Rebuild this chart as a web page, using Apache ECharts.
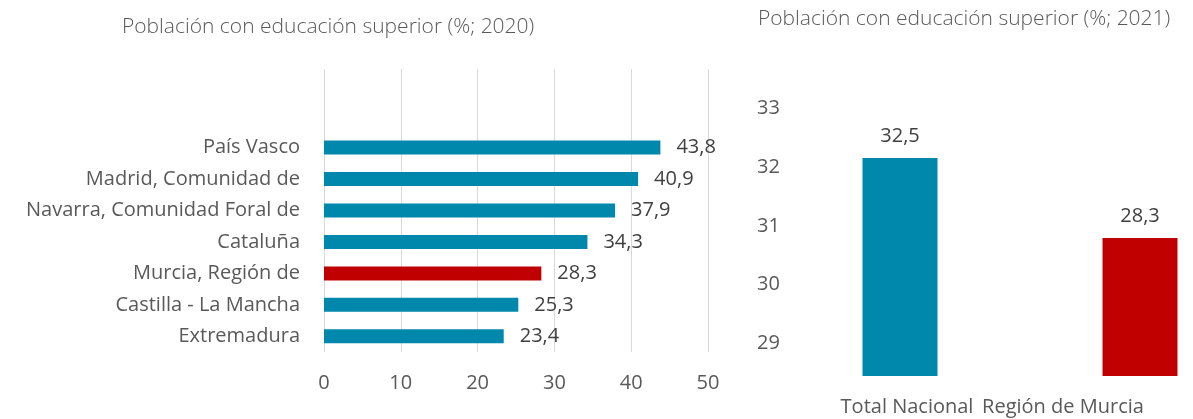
<!DOCTYPE html>
<html>
<head>
<meta charset="utf-8">
<script src="https://cdn.jsdelivr.net/npm/echarts@6/dist/echarts.min.js"></script>
<style>
  html, body { margin: 0; padding: 0; background: #fff; overflow: hidden; }
  /* el grafico de la derecha queda cortado por el borde, como en el original */
  #chart { width: 1260px; height: 419px; }
</style>
</head>
<body>
<div id="chart"></div>
<script>
// datos 2020 (las dos primeras categorias van vacias, como en el original)
const regiones = ['', '', 'País Vasco', 'Madrid, Comunidad de', 'Navarra, Comunidad Foral de',
  'Cataluña', 'Murcia, Región de', 'Castilla - La Mancha', 'Extremadura'];
const valores2020 = [null, null, 43.8, 40.9, 37.9, 34.3, 28.3, 25.3, 23.4];
const ticksX2020 = [0, 10, 20, 30, 40, 50];

// datos 2021
const territorios = ['Total Nacional', 'Región de Murcia'];
const valores2021 = [32.5, 28.3];
const ticksY2021 = [29, 30, 31, 32, 33];

const AZUL = '#0087AC';
const ROJO = '#C00000';
const GRIS = '#595959';
const FONT = 'Open Sans';
const FS = 20;

const coma = v => String(v).replace('.', ',');

const chart = echarts.init(document.getElementById('chart'));

const option = {
  animation: false,
  textStyle: { fontFamily: FONT },
  title: [
    {
      text: 'Población con educación superior (%; 2020)',
      left: 117, top: 12,
      textStyle: { fontFamily: FONT, fontSize: 21, fontWeight: 300, color: GRIS }
    },
    {
      text: 'Población con educación superior (%; 2021)',
      left: 753, top: 4,
      textStyle: { fontFamily: FONT, fontSize: 21, fontWeight: 300, color: GRIS }
    }
  ],
  grid: [
    { left: 324, right: 552, top: 69, bottom: 67 },
    { left: 780, right: 0, top: 100, bottom: 43 }
  ],
  xAxis: [
    {
      type: 'value', gridIndex: 0,
      min: ticksX2020[0], max: ticksX2020[ticksX2020.length - 1], interval: 10,
      axisLine: { show: false }, axisTick: { show: false },
      splitLine: { lineStyle: { color: '#D9D9D9', width: 1 } },
      axisLabel: { margin: 21, fontSize: FS, color: GRIS }
    },
    {
      type: 'category', gridIndex: 1,
      // la segunda etiqueta se desplaza a la izquierda para caber, como en el original
      data: territorios.map((t, i) => i === 1
        ? { value: t, textStyle: { padding: [0, 154, 0, 0] } }
        : { value: t, textStyle: { padding: [0, 0, 0, 14] } }),
      axisLine: { show: false }, axisTick: { show: false },
      axisLabel: { interval: 0, margin: 21, fontSize: FS, color: GRIS }
    }
  ],
  yAxis: [
    {
      type: 'category', gridIndex: 0, inverse: true,
      data: regiones,
      axisLine: { show: false }, axisTick: { show: false },
      axisLabel: { margin: 24, fontSize: FS, color: GRIS }
    },
    {
      // eje visible de la derecha
      type: 'value', gridIndex: 1,
      min: 28.44, max: 33.15,
      axisLine: { show: false }, axisTick: { show: false },
      splitLine: { show: false },
      axisLabel: { customValues: ticksY2021, align: 'left', margin: 23, fontSize: FS, color: GRIS }
    },
    {
      // eje oculto donde se dibujan las barras 2021
      type: 'value', gridIndex: 1,
      min: 21.05, max: 35.55, show: false,
      splitLine: { show: false }
    }
  ],
  series: [
    {
      type: 'bar', xAxisIndex: 0, yAxisIndex: 0,
      barWidth: 14,
      data: valores2020.map((v, i) => ({
        value: v,
        itemStyle: { color: regiones[i].startsWith('Murcia') ? ROJO : AZUL }
      })),
      label: {
        show: true, position: 'right', distance: 16,
        fontSize: FS, color: '#404040',
        formatter: p => p.value == null ? '' : coma(p.value)
      }
    },
    {
      type: 'bar', xAxisIndex: 1, yAxisIndex: 2,
      barWidth: 75,
      data: valores2021.map((v, i) => ({ value: v, itemStyle: { color: i === 0 ? AZUL : ROJO } })),
      label: {
        show: true, position: 'top', distance: 12,
        fontSize: FS, color: '#404040',
        formatter: p => coma(p.value)
      }
    }
  ]
};

chart.setOption(option);
</script>
</body>
</html>
